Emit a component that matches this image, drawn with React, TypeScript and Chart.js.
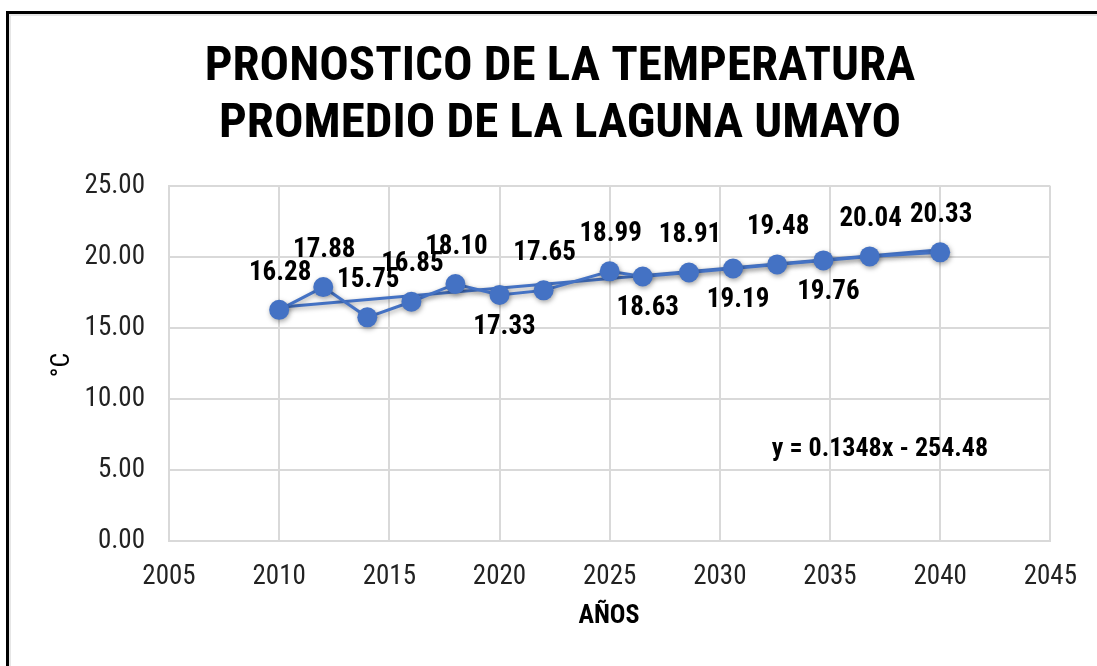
import React, { useEffect, useRef } from "react";
import { Chart, registerables } from "chart.js";

Chart.register(...registerables);

const years = [2010, 2012, 2014, 2016, 2018, 2020, 2022, 2025, 2026.5, 2028.6, 2030.6, 2032.6, 2034.7, 2036.8, 2040];
const temps = [16.28, 17.88, 15.75, 16.85, 18.1, 17.33, 17.65, 18.99, 18.63, 18.91, 19.19, 19.48, 19.76, 20.04, 20.33];
const labelPlacement = ["above", "above", "above", "above", "above", "below", "above", "above", "below", "above", "below", "above", "below", "above", "above"];
const trendSlope = 0.1348;
const trendIntercept = -254.48;
const trendRange = [2010, 2040];
const xTicks = [2005, 2010, 2015, 2020, 2025, 2030, 2035, 2040, 2045];
const titleLines = ["PRONOSTICO DE LA TEMPERATURA", "PROMEDIO DE LA LAGUNA UMAYO"];
const xTitle = "AÑOS";
const yTitle = "°C";
const equationText = "y = 0.1348x - 254.48";

const FONT = '"Liberation Sans Narrow", "Arial Narrow", "Roboto Condensed", sans-serif';
const BLUE = "#4472C4";

const overlayPlugin = {
  id: "overlay",
  beforeDraw(chart: any) {
    const ctx = chart.ctx;
    ctx.save();
    ctx.fillStyle = "#ffffff";
    ctx.fillRect(0, 0, chart.width, chart.height);
    // frame
    ctx.strokeStyle = "#e6e6e6";
    ctx.lineWidth = 2;
    ctx.beginPath();
    ctx.moveTo(10, chart.height);
    ctx.lineTo(10, 15);
    ctx.lineTo(chart.width, 15);
    ctx.stroke();
    ctx.strokeStyle = "#000000";
    ctx.lineWidth = 3;
    ctx.beginPath();
    ctx.moveTo(7.5, chart.height);
    ctx.lineTo(7.5, 12.5);
    ctx.lineTo(chart.width, 12.5);
    ctx.stroke();
    // title
    ctx.fillStyle = "#000";
    ctx.textAlign = "center";
    ctx.textBaseline = "alphabetic";
    ctx.font = `bold 49px ${FONT}`;
    ctx.fillText(titleLines[0], 560, 80);
    ctx.fillText(titleLines[1], 560, 137);
    ctx.restore();
  },
  beforeDatasetsDraw(chart: any) {
    chart.ctx.save();
    chart.ctx.shadowColor = "rgba(0,0,0,0.35)";
    chart.ctx.shadowBlur = 5;
    chart.ctx.shadowOffsetX = 1;
    chart.ctx.shadowOffsetY = 2;
  },
  afterDatasetsDraw(chart: any) {
    const ctx = chart.ctx;
    ctx.restore();
    ctx.save();
    const meta = chart.getDatasetMeta(0);
    ctx.fillStyle = "#000";
    ctx.font = `bold 27px ${FONT}`;
    ctx.textAlign = "center";
    ctx.textBaseline = "middle";
    meta.data.forEach((pt: any, i: number) => {
      const above = labelPlacement[i] === "above";
      const dy = above ? -37 : 32;
      const dx = above ? 1 : 5;
      ctx.fillText(temps[i].toFixed(2), pt.x + dx, pt.y + dy);
    });
    // equation
    ctx.font = `bold 26px ${FONT}`;
    ctx.fillText(equationText, 880, 449);
    // axis titles
    ctx.font = `bold 26px ${FONT}`;
    ctx.fillText(xTitle, 609, 616);
    ctx.translate(62, 365);
    ctx.rotate(-Math.PI / 2);
    ctx.font = `26px ${FONT}`;
    ctx.fillText(yTitle, 0, 0);
    ctx.restore();
  },
};

export default function App() {
  const ref = useRef<HTMLCanvasElement>(null);
  useEffect(() => {
    if (!ref.current) return;
    const trendData = trendRange.map((x) => ({ x, y: trendSlope * x + trendIntercept }));
    const chart = new Chart(ref.current, {
      type: "scatter",
      data: {
        datasets: [
          {
            label: "Temperatura",
            data: years.map((x, i) => ({ x, y: temps[i] })),
            showLine: true,
            borderColor: BLUE,
            backgroundColor: BLUE,
            borderWidth: 3,
            pointRadius: 10,
            pointBorderWidth: 0,
            pointBackgroundColor: BLUE,
          },
          {
            label: "Tendencia",
            data: trendData,
            showLine: true,
            borderColor: BLUE,
            borderWidth: 3,
            pointRadius: 0,
          },
        ],
      },
      plugins: [overlayPlugin],
      options: {
        animation: false,
        responsive: false,
        layout: { padding: { top: 186, left: 0, right: 44, bottom: 0 } },
        plugins: { legend: { display: false }, tooltip: { enabled: false }, title: { display: false } },
        scales: {
          x: {
            type: "linear",
            min: 2005,
            max: 2045,
            afterBuildTicks: (scale: any) => {
              scale.ticks = xTicks.map((v) => ({ value: v }));
            },
            afterFit: (scale: any) => {
              scale.height = 125;
            },
            grid: { color: "#d9d9d9", lineWidth: 2, drawTicks: false },
            border: { color: "#d9d9d9", width: 2 },
            ticks: {
              padding: 20,
              color: "#222",
              font: { family: FONT, size: 27 },
              callback: (v: any) => String(v),
            },
          },
          y: {
            min: 0,
            max: 25,
            afterFit: (scale: any) => {
              scale.width = 169;
            },
            grid: { color: "#d9d9d9", lineWidth: 2, drawTicks: false },
            border: { color: "#d9d9d9", width: 2 },
            ticks: {
              stepSize: 5,
              padding: 24,
              color: "#222",
              font: { family: FONT, size: 27 },
              callback: (v: any) => Number(v).toFixed(2),
            },
          },
        },
      },
    });
    return () => chart.destroy();
  }, []);
  return (
    <div style={{ position: "absolute", left: 0, top: 0, width: 1097, height: 666 }}>
      <canvas ref={ref} width={1097} height={666} style={{ display: "block" }} />
    </div>
  );
}
